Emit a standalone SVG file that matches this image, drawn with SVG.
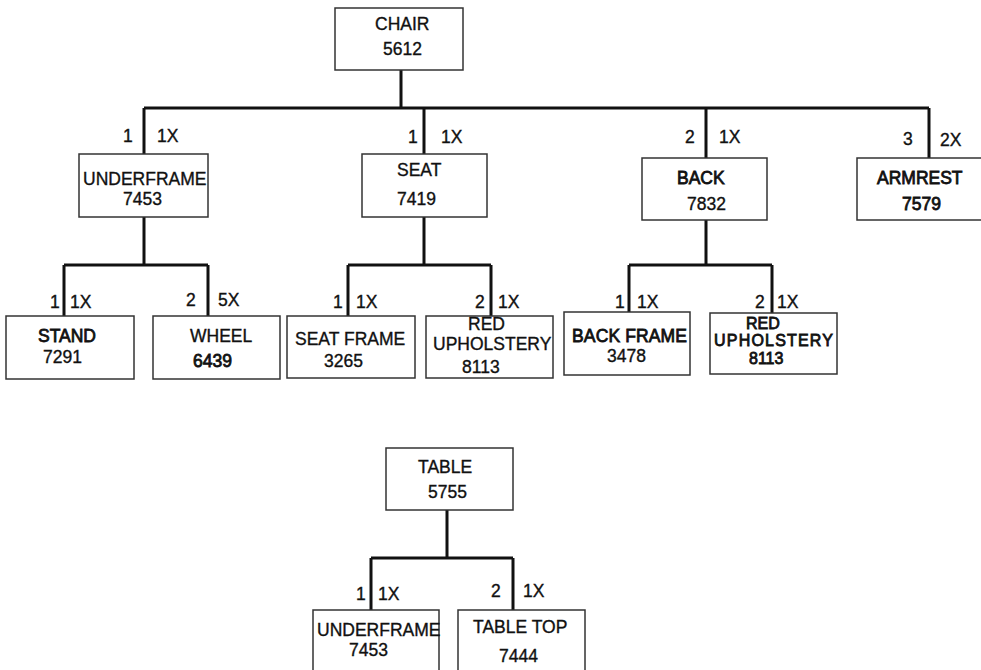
<svg xmlns="http://www.w3.org/2000/svg" width="981" height="670" viewBox="0 0 981 670">
<style>
.box{fill:#fff;stroke:#333;stroke-width:1.5}
.t{font-family:"Liberation Sans",Arial,sans-serif;font-size:17.5px;fill:#111;stroke:#111;stroke-width:0.35}
.b{stroke-width:0.8}
.s{font-size:16px}
.c{fill:none;stroke:#111;stroke-width:3}
</style>
<rect width="981" height="670" fill="#fff"/>
<g id="connectors">
<path class="c" d="M401,70 V108 M144,108 H929 M144,108 V154 M424,108 V154 M706,108 V158 M929,108 V158"/>
<path class="c" d="M144,217 V265 M64,265 H208 M64,265 V316 M208,265 V316"/>
<path class="c" d="M424,217 V265 M348,265 H491 M348,265 V316 M491,265 V316"/>
<path class="c" d="M706,220 V265 M629,265 H772 M629,265 V312 M772,265 V313"/>
<path class="c" d="M447,510 V558 M371,558 H513 M371,558 V610 M513,558 V610"/>
</g>
<g id="labels" class="t">
<text x="123" y="142">1</text><text x="157" y="142">1X</text>
<text x="408" y="143">1</text><text x="441" y="143">1X</text>
<text x="685" y="143">2</text><text x="719" y="143">1X</text>
<text x="903" y="145">3</text><text x="940" y="146">2X</text>
<text x="50" y="308">1</text><text x="70" y="308">1X</text>
<text x="186" y="306">2</text><text x="218" y="306">5X</text>
<text x="333" y="308">1</text><text x="356" y="308">1X</text>
<text x="475" y="308">2</text><text x="498" y="308">1X</text>
<text x="615" y="308">1</text><text x="637" y="308">1X</text>
<text x="755" y="308">2</text><text x="777" y="308">1X</text>
<text x="356" y="600">1</text><text x="378" y="600">1X</text>
<text x="491" y="597">2</text><text x="523" y="597">1X</text>
</g>
<g id="chair"><rect class="box" x="335" y="8" width="128" height="62"/>
<text class="t" x="375" y="30">CHAIR</text><text class="t" x="383" y="55">5612</text></g>
<g id="underframe"><rect class="box" x="79" y="154" width="129" height="63"/>
<text class="t" x="83" y="185">UNDERFRAME</text><text class="t" x="123" y="205">7453</text></g>
<g id="seat"><rect class="box" x="362" y="154" width="125" height="63"/>
<text class="t" x="397" y="176">SEAT</text><text class="t" x="397" y="205">7419</text></g>
<g id="back"><rect class="box" x="642" y="158" width="125" height="62"/>
<text class="t b" x="677" y="184">BACK</text><text class="t" x="687" y="210">7832</text></g>
<g id="armrest"><rect class="box" x="857" y="158" width="130" height="62"/>
<text class="t b" x="877" y="184">ARMREST</text><text class="t b" x="902" y="210">7579</text></g>
<g id="stand"><rect class="box" x="6" y="316" width="128" height="63"/>
<text class="t b" x="38" y="342">STAND</text><text class="t" x="43" y="363">7291</text></g>
<g id="wheel"><rect class="box" x="153" y="316" width="127" height="63"/>
<text class="t" x="190" y="342">WHEEL</text><text class="t b" x="193" y="367">6439</text></g>
<g id="seatframe"><rect class="box" x="287" y="316" width="128" height="62"/>
<text class="t" x="295" y="345">SEAT FRAME</text><text class="t" x="324" y="367">3265</text></g>
<g id="redupholstery1"><rect class="box" x="426" y="316" width="127" height="62"/>
<text class="t" x="468" y="330">RED</text><text class="t" x="433" y="350">UPHOLSTERY</text><text class="t" x="462" y="373">8113</text></g>
<g id="backframe"><rect class="box" x="564" y="312" width="126" height="63"/>
<text class="t b" x="572" y="342" textLength="115">BACK FRAME</text><text class="t" x="607" y="362">3478</text></g>
<g id="redupholstery2"><rect class="box" x="710" y="313" width="127" height="61"/>
<text class="t b s" x="746" y="329">RED</text><text class="t b s" x="714" y="346" textLength="119">UPHOLSTERY</text><text class="t b s" x="749" y="364">8113</text></g>
<g id="table"><rect class="box" x="386" y="448" width="127" height="62"/>
<text class="t" x="418" y="473">TABLE</text><text class="t" x="428" y="498">5755</text></g>
<g id="underframe2"><rect class="box" x="313" y="610" width="126" height="65"/>
<text class="t" x="317" y="636">UNDERFRAME</text><text class="t" x="349" y="656">7453</text></g>
<g id="tabletop"><rect class="box" x="458" y="610" width="127" height="65"/>
<text class="t" x="473" y="633">TABLE TOP</text><text class="t" x="499" y="662">7444</text></g>
</svg>
